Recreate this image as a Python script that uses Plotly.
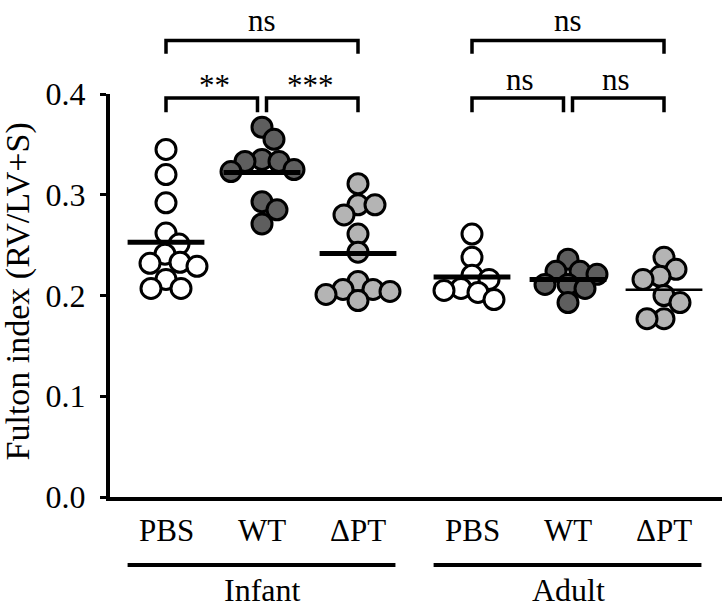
import numpy as np
import plotly.graph_objects as go

# ---------------- data ----------------
group_labels = ["PBS", "WT", "ΔPT", "PBS", "WT", "ΔPT"]
age_labels = ["Infant", "Adult"]

infant_pbs = [0.345, 0.320, 0.292, 0.262, 0.251, 0.241, 0.233, 0.232, 0.229, 0.216, 0.207, 0.207]
infant_wt = [0.367, 0.355, 0.335, 0.333, 0.333, 0.325, 0.323, 0.293, 0.285, 0.271]
infant_dpt = [0.311, 0.290, 0.290, 0.280, 0.261, 0.243, 0.214, 0.206, 0.206, 0.204, 0.201, 0.195]
adult_pbs = [0.261, 0.238, 0.220, 0.216, 0.207, 0.205, 0.203, 0.196]
adult_wt = [0.236, 0.224, 0.224, 0.221, 0.211, 0.211, 0.207, 0.193]
adult_dpt = [0.238, 0.226, 0.219, 0.216, 0.200, 0.193, 0.177, 0.177]

y_tick_vals = [0.0, 0.1, 0.2, 0.3, 0.4]
y_tick_text = ["0.0", "0.1", "0.2", "0.3", "0.4"]

sig_infant = ["**", "***", "ns"]
sig_adult = ["ns", "ns", "ns"]

# ---------------- layout constants ----------------
W, H = 722, 609
ML, MR, MT, MB = 110, 0, 94, 112
PLOT_W = W - ML - MR
PLOT_H = H - MT - MB
YMAX = 0.4
YPX = PLOT_H / YMAX          # px per y unit
XPX = 96.0                   # px per x unit
group_pos = [0.0, 1.0, 2.0, 3.1875, 4.1875, 5.1875]
XMIN = -(166 - ML) / XPX
XMAX = XMIN + PLOT_W / XPX

series = [infant_pbs, infant_wt, infant_dpt, adult_pbs, adult_wt, adult_dpt]
fills = ["#ffffff", "#5e5e5e", "#b4b4b4", "#ffffff", "#5e5e5e", "#b4b4b4"]
mean_w = [5, 5, 5, 5, 5, 2.5]
FONT = "Liberation Serif, Times New Roman, DejaVu Serif, serif"
FS = 31


def swarm(values, dmin=17.0):
    """Simple beeswarm: pixel x-offsets so circles don't overlap too much."""
    placed = []
    offs = []
    cands = [0.0]
    for i in range(1, 80):
        cands += [i * 1.0, -i * 1.0]
    for v in values:
        y = v * YPX
        best = 0.0
        for o in cands:
            if all((o - po) ** 2 + (y - pyy) ** 2 >= dmin ** 2 for po, pyy in placed):
                best = o
                break
        placed.append((best, y))
        offs.append(best)
    return offs


def ypaper(v):
    return v / YMAX


fig = go.Figure()

for gi, vals in enumerate(series):
    offs = swarm(vals)
    xs = [group_pos[gi] + o / XPX for o in offs]
    fig.add_trace(go.Scatter(
        x=xs, y=vals, mode="markers", cliponaxis=False,
        marker=dict(size=20, color=fills[gi], line=dict(color="black", width=3)),
        showlegend=False, hoverinfo="y"))

for gi, vals in enumerate(series):
    m = float(np.mean(vals))
    fig.add_trace(go.Scatter(
        x=[group_pos[gi] - 0.4, group_pos[gi] + 0.4], y=[m, m], mode="lines",
        cliponaxis=False,
        line=dict(color="black", width=mean_w[gi]), showlegend=False, hoverinfo="skip"))

shapes = []
annotations = []


def bracket(xa, xb, top, leg):
    return dict(type="path", xref="x", yref="paper",
                path=f"M {xa},{ypaper(leg)} L {xa},{ypaper(top)} L {xb},{ypaper(top)} L {xb},{ypaper(leg)}",
                line=dict(color="black", width=3.5))


gap = 0.047
for base, sigs in ((0, sig_infant), (3, sig_adult)):
    a, b, c = group_pos[base], group_pos[base + 1], group_pos[base + 2]
    shapes.append(bracket(a, b - gap, 0.396, 0.382))
    shapes.append(bracket(b + gap, c, 0.396, 0.382))
    shapes.append(bracket(a, c, 0.453, 0.440))
    for txt, xc, yv in ((sigs[0], (a + b) / 2, 0.414), (sigs[1], (b + c) / 2, 0.414),
                        (sigs[2], b, 0.473)):
        ys = -6 if "*" in txt else 0
        annotations.append(dict(text=txt, x=xc, y=ypaper(yv), xref="x", yref="paper",
                                showarrow=False, yanchor="middle", xanchor="center", yshift=ys,
                                font=dict(family=FONT, size=FS, color="black")))

# category labels
for gi, lab in enumerate(group_labels):
    annotations.append(dict(text=lab, x=group_pos[gi], y=ypaper(-0.0328), xref="x", yref="paper",
                            showarrow=False, yanchor="middle", xanchor="center",
                            font=dict(family=FONT, size=FS, color="black")))

# age underlines and labels
for k, base in enumerate((0, 3)):
    x0 = group_pos[base] - 0.40
    x1 = group_pos[base + 2] + 0.39
    shapes.append(dict(type="line", xref="x", yref="paper", x0=x0, x1=x1,
                       y0=ypaper(-0.0675), y1=ypaper(-0.0675),
                       line=dict(color="black", width=4)))
    annotations.append(dict(text=age_labels[k], x=group_pos[base + 1], y=ypaper(-0.0925),
                            xref="x", yref="paper", showarrow=False, yanchor="middle",
                            xanchor="center", font=dict(family=FONT, size=FS + 1, color="black")))

# y-axis title
annotations.append(dict(text="Fulton index (RV/LV+S)", x=(18 - ML) / PLOT_W, y=0.51,
                        xref="paper", yref="paper", showarrow=False, textangle=-90,
                        xanchor="center", yanchor="middle",
                        font=dict(family=FONT, size=FS + 3, color="black")))

fig.update_layout(
    width=W, height=H, autosize=False,
    margin=dict(l=ML, r=MR, t=MT, b=MB),
    paper_bgcolor="white", plot_bgcolor="white",
    shapes=shapes, annotations=annotations,
    font=dict(family=FONT, size=FS, color="black"),
    xaxis=dict(range=[XMIN, XMAX], showline=True, linewidth=4, linecolor="black",
               showticklabels=False, ticks="", showgrid=False, zeroline=False),
    yaxis=dict(range=[0, YMAX], tickvals=y_tick_vals, ticktext=y_tick_text,
               showline=True, linewidth=4, linecolor="black", ticks="outside",
               ticklen=6, tickwidth=3, tickcolor="black", ticklabelstandoff=8,
               showgrid=False, zeroline=False,
               tickfont=dict(family=FONT, size=FS + 1, color="black")),
)

fig.write_html("out.html", config={"displayModeBar": False},
               post_script="document.body.style.margin='0px';document.body.style.overflow='hidden';")
